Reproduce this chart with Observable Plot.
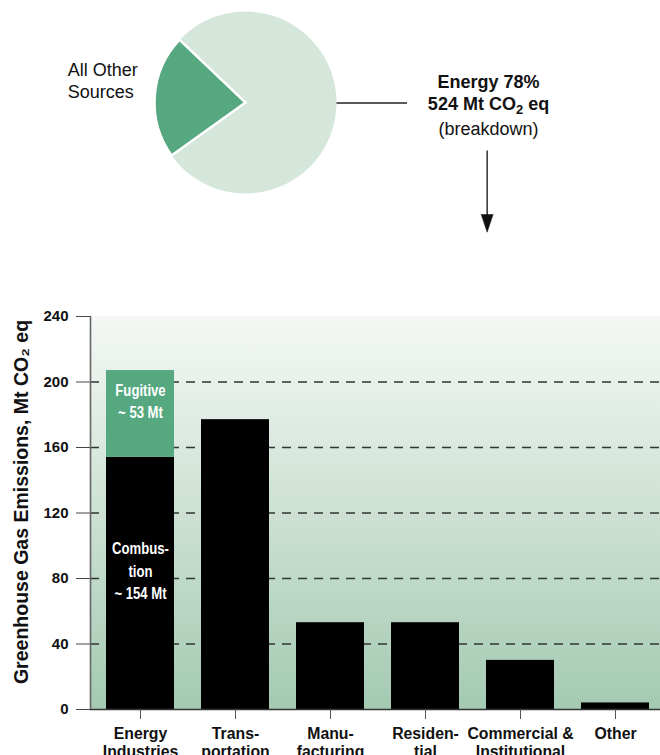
<!DOCTYPE html>
<html>
<head>
<meta charset="utf-8">
<script src="https://cdn.jsdelivr.net/npm/d3@7"></script>
<script src="https://cdn.jsdelivr.net/npm/@observablehq/plot@0.6"></script>
<style>
  html, body { margin: 0; padding: 0; background: #fff; overflow: hidden; }
  #pie svg, #bars svg { display: block; overflow: visible; }
</style>
</head>
<body>
<div id="pie"></div>
<div id="bars"></div>
<script>
// Share of national greenhouse gas emissions (%)
const pieLabels = ["All Other\nSources", "Energy"];
const pieShares = [22, 78];
const pieColors = ["#55a880", "#d5e6db"];

// Energy emissions by sector (Mt CO2 eq)
const sectors = ["Energy\nIndustries", "Trans-\nportation", "Manu-\nfacturing", "Residen-\ntial", "Commercial &\nInstitutional", "Other"];
const combustionEmissions = [154, 177, 53, 53, 30, 4];
const fugitiveEmissions = [53, 0, 0, 0, 0, 0];
const yTicks = [0, 40, 80, 120, 160, 200, 240];
const gridValues = [40, 80, 120, 160, 200];

const sans = "'Liberation Sans', Arial, Helvetica, sans-serif";
const energyTotal = d3.sum(combustionEmissions) + d3.sum(fugitiveEmissions);

// ---------- Pie of total emissions ----------
const pieData = pieLabels.map((label, i) => ({label, share: pieShares[i], color: pieColors[i]}));
// "All Other Sources" wedge centred just above the 9 o'clock direction
const otherCentre = (274 / 180) * Math.PI;
const pieStart = otherCentre - (pieShares[0] / 100) * Math.PI;

function pieMark(data) {
  return (index, {x, y}) => {
    const cx = x(0), cy = y(0), r = x(1) - x(0);
    const arcs = d3.pie().value(d => d.share).sort(null)
      .startAngle(pieStart).endAngle(pieStart + 2 * Math.PI)(data);
    const arc = d3.arc().innerRadius(0).outerRadius(r);
    const g = d3.create("svg:g").attr("transform", `translate(${cx},${cy})`);
    // large slice first, highlighted slice on top with a white outline
    g.selectAll("path")
      .data(arcs.slice().reverse())
      .join("path")
      .attr("d", arc)
      .attr("fill", d => d.data.color)
      .attr("stroke", (d, i) => i === 1 ? "#fff" : "none")
      .attr("stroke-width", 2.5)
      .attr("stroke-linejoin", "miter");
    return g.node();
  };
}

const energyShare = pieShares[pieLabels.indexOf("Energy")];

const pieChart = Plot.plot({
  width: 660,
  height: 290,
  margin: 0,
  x: {domain: [-1, 1], range: [154.5, 336.5], axis: null},
  y: {domain: [-1, 1], range: [193.5, 11.5], axis: null},
  style: {fontFamily: sans, background: "transparent"},
  marks: [
    pieMark(pieData),
    Plot.ruleY([0], {x1: 1, x2: 1.775, stroke: "#222", strokeWidth: 1.3}),
    Plot.text([pieLabels[0]], {x: -1.96, y: 0.253, textAnchor: "start", fontSize: 18, lineHeight: 1.25, fill: "#111"}),
    Plot.text([`Energy ${energyShare}%`], {x: 2.665, y: 0.229, fontSize: 18, fontWeight: "bold", fill: "#111"}),
    Plot.text([`${energyTotal} Mt CO₂ eq`], {x: 2.665, y: -0.019, fontSize: 18, fontWeight: "bold", fill: "#111", className: "chem"}),
    Plot.text(["(breakdown)"], {x: 2.665, y: -0.293, fontSize: 18, fill: "#111"}),
    Plot.link([0], {x1: 2.65, x2: 2.65, y1: -0.522, y2: -1.3, stroke: "#111", strokeWidth: 1.3}),
    Plot.vector([0], {x: 2.65, y: -1.42, length: 18, rotate: 180, anchor: "end", shape: "spike", r: 6, fill: "#111", stroke: "#111", strokeWidth: 0.5})
  ]
});
// typeset the subscript of CO2 as a lowered, smaller digit
pieChart.querySelectorAll(".chem text").forEach(t => {
  const s = t.textContent;
  const i = s.indexOf("₂");
  if (i < 0) return;
  const ns = "http://www.w3.org/2000/svg";
  t.textContent = "";
  const a = document.createElementNS(ns, "tspan");
  a.textContent = s.slice(0, i);
  const sub = document.createElementNS(ns, "tspan");
  sub.textContent = "2";
  sub.setAttribute("font-size", "13");
  sub.setAttribute("dy", "4");
  const b = document.createElementNS(ns, "tspan");
  b.textContent = s.slice(i + 1);
  b.setAttribute("dy", "-4");
  t.append(a, sub, b);
});
document.getElementById("pie").append(pieChart);

// ---------- Sector breakdown of energy emissions ----------
const rows = sectors.flatMap((sector, i) => [
  {sector, part: "Combustion", value: combustionEmissions[i]},
  {sector, part: "Fugitive", value: fugitiveEmissions[i]}
]).filter(d => d.value > 0);

const segmentLabels = [
  {sector: sectors[0], value: combustionEmissions[0] / 2,
   text: `Combus-\ntion\n~ ${combustionEmissions[0]} Mt`},
  {sector: sectors[0], value: combustionEmissions[0] + fugitiveEmissions[0] / 2,
   text: `Fugitive\n~ ${fugitiveEmissions[0]} Mt`}
];

// background gradient, positioned from the y scale
function backdrop() {
  return (index, {y}, values, {width, marginLeft, marginRight}) => {
    const g = d3.create("svg:g");
    const grad = g.append("defs").append("linearGradient")
      .attr("id", "plotBg").attr("x1", 0).attr("x2", 0).attr("y1", 0).attr("y2", 1);
    grad.append("stop").attr("offset", "0%").attr("stop-color", "#f5f8f5");
    grad.append("stop").attr("offset", "100%").attr("stop-color", "#a4cab2");
    const top = y(d3.max(yTicks)), bottom = y(0);
    g.append("rect")
      .attr("x", marginLeft).attr("y", top)
      .attr("width", width - marginRight - marginLeft).attr("height", bottom - top)
      .attr("fill", "url(#plotBg)");
    return g.node();
  };
}
// vertical axis line along the left edge of the plot area
function axisLine() {
  return (index, {y}, values, {marginLeft}) => {
    const line = d3.create("svg:line")
      .attr("x1", marginLeft + 0.5).attr("x2", marginLeft + 0.5)
      .attr("y1", y(d3.max(yTicks))).attr("y2", y(0))
      .attr("stroke", "#666").attr("stroke-width", 1.6);
    return line.node();
  };
}

const barChart = Plot.plot({
  width: 660,
  height: 480,
  marginTop: 26,
  marginBottom: 61,
  marginLeft: 90,
  marginRight: 0,
  x: {type: "band", domain: sectors, range: [90, 665], paddingInner: 0.28, paddingOuter: 0.14, axis: null},
  y: {domain: [0, 240], axis: null},
  color: {domain: ["Combustion", "Fugitive"], range: ["#000", "#55a880"]},
  style: {fontFamily: sans, background: "transparent"},
  marks: [
    backdrop(),
    Plot.ruleY(gridValues, {stroke: "#333", strokeWidth: 1.3, strokeDasharray: "9,7"}),
    Plot.barY(rows, {x: "sector", y: "value", fill: "part"}),
    Plot.ruleY([0], {stroke: "#333", strokeWidth: 1.6}),
    axisLine(),
    Plot.axisY({ticks: yTicks, tickSize: 14, tickPadding: 8, label: null, stroke: "#444",
      fontSize: 15, fontWeight: "bold", fill: "#111"}),
    Plot.axisX({tickSize: 10, tickPadding: 6, label: null, stroke: "#555",
      fontSize: 15.8, fontWeight: "bold", fill: "#111", lineHeight: 1.18}),
    Plot.text(segmentLabels, {x: "sector", y: "value", text: "text", dy: -14, className: "segment-label",
      fill: "#fff", fontSize: 16, fontWeight: "bold", lineHeight: 1.4}),
    Plot.text(["Greenhouse Gas Emissions, Mt CO₂ eq"], {frameAnchor: "left", textAnchor: "middle", rotate: -90,
      dx: -69, dy: -11, fontSize: 19.5, fontWeight: "bold", fill: "#111"})
  ]
});
// the in-bar labels are set in a condensed face: compress them horizontally
barChart.querySelectorAll(".segment-label text").forEach(t => {
  const tr = t.getAttribute("transform") || "";
  t.setAttribute("transform", `${tr} scale(0.82,1)`);
});
document.getElementById("bars").append(barChart);
</script>
</body>
</html>
